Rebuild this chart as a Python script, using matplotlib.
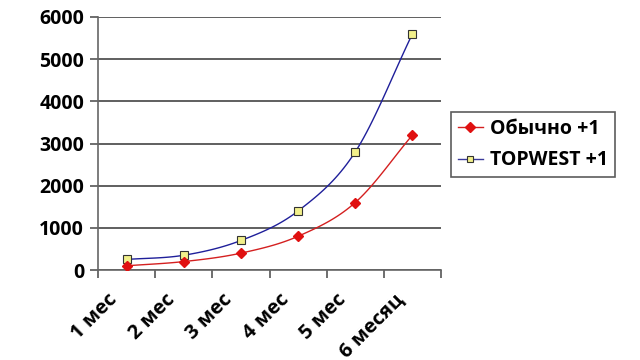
import numpy as np
import matplotlib
matplotlib.use("Agg")
import matplotlib.pyplot as plt
import matplotlib.transforms as mtransforms
from matplotlib.lines import Line2D

categories = ["1 мес", "2 мес", "3 мес", "4 мес", "5 мес", "6 месяц"]
obychno = [100, 200, 400, 800, 1600, 3200]
topwest = [250, 350, 700, 1400, 2800, 5600]
yticks = [0, 1000, 2000, 3000, 4000, 5000, 6000]

plt.rcParams['font.family'] = ['Open Sans', 'DejaVu Sans']
plt.rcParams['font.weight'] = 'bold'


def smooth(x, y, n=20):
    # Catmull-Rom style rendering between data points
    x = np.asarray(x, float); y = np.asarray(y, float)
    px = np.concatenate([[2*x[0]-x[1]], x, [2*x[-1]-x[-2]]])
    py = np.concatenate([[2*y[0]-y[1]], y, [2*y[-1]-y[-2]]])
    xs, ys = [], []
    for i in range(1, len(px)-2):
        t = np.linspace(0, 1, n, endpoint=False)
        for arr, out in ((px, xs), (py, ys)):
            p0, p1, p2, p3 = arr[i-1], arr[i], arr[i+1], arr[i+2]
            out.extend(0.5*((2*p1) + (-p0+p2)*t + (2*p0-5*p1+4*p2-p3)*t**2 + (-p0+3*p1-3*p2+p3)*t**3))
    xs.append(x[-1]); ys.append(y[-1])
    return np.array(xs), np.array(ys)


fig = plt.figure(figsize=(6.4, 3.6), dpi=100)
ax = fig.add_axes([98/640, 1-270/360, (441-98)/640, (270-17)/360])

x = np.arange(len(categories)) + 0.5
sx, sy = smooth(x, topwest)
ax.plot(sx, sy, color='#1f1f9a', lw=1.0, zorder=3)
ax.plot(x, topwest, ls='none', marker='s', ms=5.5, mfc='#f2f08a', mec='#333333', mew=0.8, zorder=4)
sx, sy = smooth(x, obychno)
ax.plot(sx, sy, color='#d42020', lw=1.0, zorder=3)
ax.plot(x, obychno, ls='none', marker='D', ms=5, mfc='#e01010', mec='#e01010', zorder=4)

h1 = Line2D([], [], color='#d42020', lw=1.0, marker='D', ms=5, mfc='#e01010', mec='#e01010')
h2 = Line2D([], [], color='#3a3a9a', lw=1.0, marker='s', ms=5, mfc='#f2f08a', mec='#333333', mew=0.8)
leg = fig.legend([h1, h2], ["Обычно +1", "TOPWEST +1"], loc='upper left',
                 bbox_to_anchor=(451/640, 1-112/360), borderaxespad=0, frameon=True, fancybox=False,
                 prop={'size': 14, 'weight': 'bold'}, handlelength=1.3, handletextpad=0.35,
                 borderpad=0.35, labelspacing=0.6)
leg.get_frame().set_edgecolor('#333333')
leg.get_frame().set_linewidth(1.2)

ax.set_xlim(0, 6)
ax.set_ylim(0, 6000)
ax.set_yticks(yticks)
ax.set_yticklabels([str(v) for v in yticks], fontsize=14, fontweight='bold')
ax.set_xticks(np.arange(0, 7))
ax.set_xticklabels([])
ax.set_xticks(x, minor=True)
ax.set_xticklabels(categories, minor=True, rotation=45, ha='right', rotation_mode='anchor',
                   fontsize=14.5, fontweight='bold')
ax.tick_params(axis='x', which='minor', length=0, pad=14)
ax.tick_params(axis='x', which='major', length=6, direction='out', color='#555555', width=1.2)
ax.tick_params(axis='y', length=6, direction='out', color='#555555', width=1.2, pad=4)
off = mtransforms.ScaledTranslation(-19/100, 0, fig.dpi_scale_trans)
for lab in ax.get_xticklabels(minor=True):
    lab.set_transform(lab.get_transform() + off)
ax.grid(axis='y', color='#444444', lw=1.2)
for s in ['top', 'right']:
    ax.spines[s].set_visible(False)
ax.spines['left'].set_color('#666666')
ax.spines['left'].set_linewidth(1.2)
ax.spines['bottom'].set_color('#666666')
ax.spines['bottom'].set_linewidth(1.2)
ax.set_axisbelow(True)

fig.savefig('out.png', dpi=100)
